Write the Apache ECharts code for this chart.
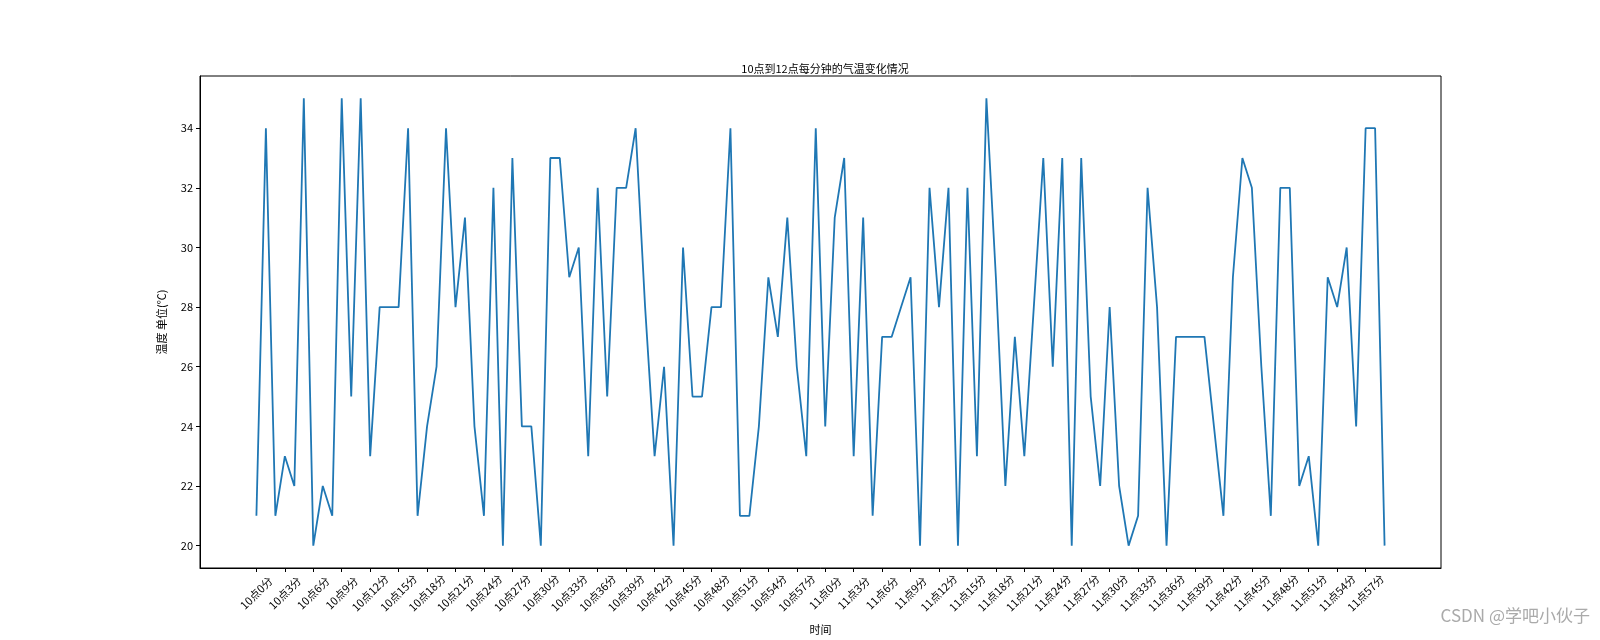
<!DOCTYPE html>
<html>
<head>
<meta charset="utf-8">
<title>10点到12点每分钟的气温变化情况</title>
<script src="https://cdn.jsdelivr.net/npm/echarts@6/dist/echarts.min.js"></script>
<style>
	html, body { margin: 0; padding: 0; background: #fff; }
	#chart { width: 1600px; height: 640px; }
</style>
</head>
<body>
<div id="chart"></div>
<script>
// 每分钟的气温（10点0分 ~ 11点59分，共120个点）
var temps = [
	21, 34, 21, 23, 22, 35, 20, 22, 21, 35, 25, 35, 23, 28, 28, 28, 34, 21, 24, 26,
	34, 28, 31, 24, 21, 32, 20, 33, 24, 24, 20, 33, 33, 29, 30, 23, 32, 25, 32, 32,
	34, 28, 23, 26, 20, 30, 25, 25, 28, 28, 34, 21, 21, 24, 29, 27, 31, 26, 23, 34,
	24, 31, 33, 23, 31, 21, 27, 27, 28, 29, 20, 32, 28, 32, 20, 32, 23, 35, 29, 22,
	27, 23, 28, 33, 26, 33, 20, 33, 25, 22, 28, 22, 20, 21, 32, 28, 20, 27, 27, 27,
	27, 24, 21, 29, 33, 32, 26, 21, 32, 32, 22, 23, 20, 29, 28, 30, 24, 34, 34, 20
]
// 时间标签
var times = []
for (let i = 0; i < temps.length; i++) {
	times.push((10 + Math.floor(i / 60)) + "点" + (i % 60) + "分")
}
// x轴每3分钟一个刻度
var xTicks = []
for (let i = 0; i < times.length; i += 3) xTicks.push(i)
var yTicks = [20, 22, 24, 26, 28, 30, 32, 34]

var font = "'Noto Sans CJK SC', 'Noto Sans', sans-serif"

var myChart = echarts.init(document.getElementById("chart"))

var option = {
	backgroundColor: '#fff',
	animation: false,
	title: {
		text: '10点到12点每分钟的气温变化情况',
		left: 820,
		top: 58,
		textAlign: 'center',
		textStyle: { fontSize: 11, fontWeight: 'normal', color: '#000', fontFamily: font }
	},
	grid: {
		left: 200, right: 159, top: 76, bottom: 70,
		show: true, borderColor: '#000', borderWidth: 1, backgroundColor: 'transparent'
	},
	xAxis: {
		type: 'value',
		// matplotlib 默认两边留 5% 的空白
		min: -5.95,
		max: 124.95,
		name: '时间',
		nameLocation: 'middle',
		nameGap: 56,
		nameTextStyle: { fontSize: 11, color: '#000', fontFamily: font },
		axisLine: { show: true, onZero: false, lineStyle: { color: '#000', width: 1 } },
		splitLine: { show: false },
		axisTick: {
			show: true,
			customValues: xTicks,
			length: 4,
			lineStyle: { color: '#000', width: 1 }
		},
		axisLabel: {
			customValues: xTicks,
			rotate: 45,
			align: 'center',
			verticalAlign: 'middle',
			margin: 25,
			fontSize: 11,
			color: '#000',
			fontFamily: font,
			formatter: function (v) { return times[Math.round(v)] }
		}
	},
	yAxis: {
		type: 'value',
		min: 19.25,
		max: 35.75,
		name: '温度 单位(℃)',
		nameLocation: 'middle',
		nameRotate: 90,
		nameGap: 33,
		nameTextStyle: { fontSize: 11, color: '#000', fontFamily: font },
		axisLine: { show: true, onZero: false, lineStyle: { color: '#000', width: 1 } },
		splitLine: { show: false },
		axisTick: {
			show: true,
			customValues: yTicks,
			length: 4,
			lineStyle: { color: '#000', width: 1 }
		},
		axisLabel: {
			customValues: yTicks,
			margin: 7,
			fontSize: 11,
			color: '#000',
			fontFamily: font
		}
	},
	series: [{
		type: 'line',
		data: temps.map(function (v, i) { return [i, v] }),
		showSymbol: false,
		lineStyle: { color: '#1f77b4', width: 1.8 },
		itemStyle: { color: '#1f77b4' }
	}],
	graphic: [{
		type: 'text',
		right: 10,
		top: 607,
		style: {
			text: 'CSDN @学吧小伙子',
			fontSize: 17,
			fill: '#aaaaaa',
			fontFamily: font
		}
	}]
}

myChart.setOption(option)
</script>
</body>
</html>
